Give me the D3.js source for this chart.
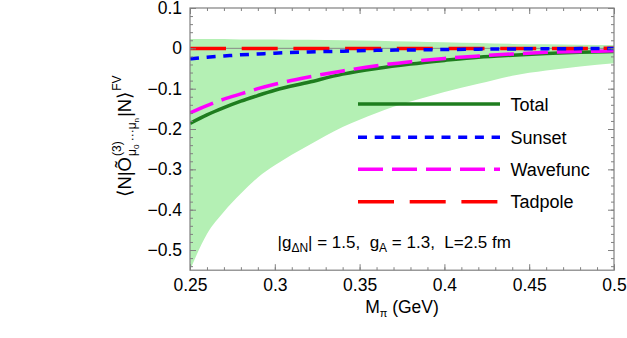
<!DOCTYPE html>
<html>
<head>
<meta charset="utf-8">
<script src="https://cdn.jsdelivr.net/npm/d3@7"></script>
<style>
  html, body { margin: 0; padding: 0; background: #fff; }
  svg { display: block; font-family: "Liberation Sans", Arial, Helvetica, sans-serif; }
  text { white-space: pre; }
</style>
</head>
<body>
<svg id="chart" width="627" height="338"></svg>
<script>
// ---- data ----
const mpi      = [0.25, 0.26, 0.27, 0.28, 0.29, 0.30, 0.32, 0.34, 0.36, 0.38, 0.40, 0.42, 0.44, 0.46, 0.48, 0.50];
const total    = [-0.186, -0.165, -0.147, -0.131, -0.117, -0.104, -0.084, -0.064, -0.050, -0.039, -0.030, -0.022, -0.017, -0.013, -0.010, -0.008];
const wavefunc = [-0.160, -0.142, -0.126, -0.113, -0.100, -0.089, -0.071, -0.056, -0.043, -0.033, -0.025, -0.019, -0.014, -0.010, -0.008, -0.006];
const sunset   = [-0.026, -0.022, -0.019, -0.016, -0.014, -0.012, -0.009, -0.007, -0.005, -0.004, -0.003, -0.002, -0.0015, -0.001, -0.0007, -0.0005];
const tadpole  = [-0.0005, -0.0005, -0.0005, -0.0005, -0.0004, -0.0004, -0.0003, -0.0003, -0.0002, -0.0002, -0.0002, -0.0001, -0.0001, -0.0001, -0.0001, 0];
const bandLow  = [-0.55, -0.46, -0.405, -0.36, -0.32, -0.29, -0.24, -0.195, -0.16, -0.132, -0.108, -0.088, -0.068, -0.055, -0.045, -0.037];
const bandHigh = [0.023, 0.023, 0.023, 0.022, 0.022, 0.022, 0.021, 0.020, 0.019, 0.017, 0.015, 0.013, 0.011, 0.010, 0.009, 0.008];
const xTicks   = [0.25, 0.3, 0.35, 0.4, 0.45, 0.5];
const yTicks   = [0.1, 0, -0.1, -0.2, -0.3, -0.4, -0.5];
const seriesNames = ["Total", "Sunset", "Wavefunc", "Tadpole"];

// ---- layout ----
const svg = d3.select("#chart");
const L = 190, R = 614, T = 8, B = 270.2;
const x = d3.scaleLinear().domain([0.25, 0.5]).range([L, R]);
const y = d3.scaleLinear().domain([-0.55, 0.1]).range([B, T]);

const styles = {
  Total:    { color: "#1e7d1e", dash: null },
  Sunset:   { color: "#0000ff", dash: "9,7.7" },
  Wavefunc: { color: "#ff00ff", dash: "25,9" },
  Tadpole:  { color: "#ff0000", dash: "36,15.7" }
};
const seriesData = { Total: total, Sunset: sunset, Wavefunc: wavefunc, Tadpole: tadpole };

svg.append("clipPath").attr("id", "clip")
  .append("rect").attr("x", L).attr("y", T).attr("width", R - L).attr("height", B - T);

const plot = svg.append("g").attr("clip-path", "url(#clip)");

// band
const area = d3.area()
  .x((d, i) => x(mpi[i]))
  .y0((d, i) => y(bandLow[i]))
  .y1((d, i) => y(bandHigh[i]))
  .curve(d3.curveMonotoneX);
plot.append("path").datum(mpi).attr("d", area).attr("fill", "#b4f0b4");

// zero line
plot.append("line").attr("x1", L).attr("x2", R).attr("y1", y(0)).attr("y2", y(0))
  .attr("stroke", "#888").attr("stroke-width", 1);

const line = d3.line().x((d, i) => x(mpi[i])).y(d => y(d)).curve(d3.curveMonotoneX);
["Total", "Wavefunc", "Tadpole", "Sunset"].forEach(name => {
  plot.append("path").datum(seriesData[name])
    .attr("d", line)
    .attr("fill", "none")
    .attr("stroke", styles[name].color)
    .attr("stroke-width", 3.5)
    .attr("stroke-dasharray", styles[name].dash);
});

// axes (inside ticks on all sides)
const fmt = d => d3.format("")(d).replace("-", "\u2212");
const xMinor = d3.range(0.25, 0.5001, 0.01);
const yMinor = d3.range(-0.54, 0.1001, 0.02);

function addAxis(axis, tr) {
  const g = svg.append("g").attr("transform", tr).call(axis);
  g.select(".domain").remove();
  g.selectAll(".tick line").attr("stroke", "#808080");
  return g;
}
// bottom
const gb = addAxis(d3.axisBottom(x).tickValues(xTicks).tickSize(-6).tickPadding(8).tickFormat(fmt), `translate(0,${B})`);
gb.selectAll("text").attr("font-size", 17.5).attr("fill", "#000").attr("font-family", "Liberation Sans, Arial, sans-serif");
addAxis(d3.axisBottom(x).tickValues(xMinor).tickSize(-3).tickFormat(""), `translate(0,${B})`);
// top
addAxis(d3.axisTop(x).tickValues(xTicks).tickSize(-6).tickFormat(""), `translate(0,${T})`);
addAxis(d3.axisTop(x).tickValues(xMinor).tickSize(-3).tickFormat(""), `translate(0,${T})`);
// left
const gl = addAxis(d3.axisLeft(y).tickValues(yTicks).tickSize(-6).tickPadding(8).tickFormat(fmt), `translate(${L},0)`);
gl.selectAll("text").attr("font-size", 17.5).attr("fill", "#000").attr("font-family", "Liberation Sans, Arial, sans-serif");
addAxis(d3.axisLeft(y).tickValues(yMinor).tickSize(-3).tickFormat(""), `translate(${L},0)`);
// right
addAxis(d3.axisRight(y).tickValues(yTicks).tickSize(-6).tickFormat(""), `translate(${R},0)`);
addAxis(d3.axisRight(y).tickValues(yMinor).tickSize(-3).tickFormat(""), `translate(${R},0)`);

// frame
svg.append("rect").attr("x", L).attr("y", T).attr("width", R - L).attr("height", B - T)
  .attr("fill", "none").attr("stroke", "#808080").attr("stroke-width", 1.2);

// legend
const legY = [104, 137.3, 169.3, 201.7];
const leg = svg.append("g");
seriesNames.forEach((name, i) => {
  leg.append("line").attr("x1", 358).attr("x2", 500).attr("y1", legY[i]).attr("y2", legY[i])
    .attr("stroke", styles[name].color).attr("stroke-width", 3.5)
    .attr("stroke-dasharray", styles[name].dash);
  leg.append("text").attr("x", 510.5).attr("y", legY[i] + 6.5)
    .attr("font-size", 18).attr("fill", "#000").text(name);
});

// annotation
const ann = svg.append("text").attr("x", 277.5).attr("y", 247.5).attr("font-size", 17).attr("fill", "#000");
ann.append("tspan").text("|g");
ann.append("tspan").attr("font-size", 12).attr("dy", 4).text("\u0394N");
ann.append("tspan").attr("dy", -4).text("| = 1.5,  g");
ann.append("tspan").attr("font-size", 12).attr("dy", 4).text("A");
ann.append("tspan").attr("dy", -4).text(" = 1.3,  L=2.5 fm");

// x-axis title
const xt = svg.append("text").attr("x", 402).attr("y", 312.5).attr("text-anchor", "middle")
  .attr("font-size", 17.5).attr("fill", "#000");
xt.append("tspan").text("M");
xt.append("tspan").attr("font-size", 11).attr("dy", 4).text("\u03c0");
xt.append("tspan").attr("dy", -4).text(" (GeV)");

// y-axis title (rotated, built from measured pieces)
const yt = svg.append("g").attr("transform", "translate(131,136) rotate(-90)");
const inner = yt.append("g");
function piece(txt, xpos, ypos, size) {
  const t = inner.append("text").attr("x", xpos).attr("y", ypos).attr("font-size", size).attr("fill", "#000").text(txt);
  return t.node().getComputedTextLength();
}
let cx = 0;
cx += piece("\u27e8N|\u00d5", cx, 0, 18.5);
const supW = piece("(3)", cx + 1, -10, 12);
let sx = cx + 1;
sx += piece("\u03bc", sx, 5, 12);
sx += piece("0", sx, 8, 8);
sx += piece(" \u00b7\u00b7\u00b7", sx, 5, 12);
sx += piece("\u03bc", sx, 5, 12);
sx += piece("n", sx, 8, 8);
cx = Math.max(cx + 1 + supW, sx) + 1;
cx += piece("|N\u27e9", cx, 0, 18.5);
cx += piece("FV", cx + 1, -10, 12) + 1;
inner.attr("transform", `translate(${-cx / 2},0)`);
</script>
</body>
</html>
